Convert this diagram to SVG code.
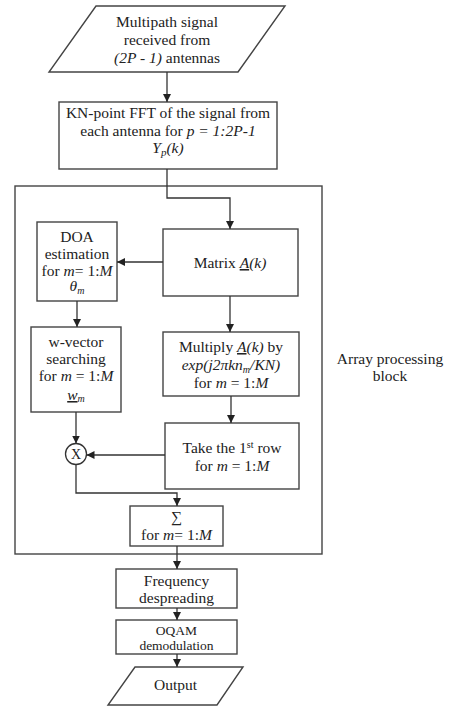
<svg xmlns="http://www.w3.org/2000/svg" width="451" height="706" viewBox="0 0 451 706">
<defs>
<marker id="ah" viewBox="0 0 10 10" refX="10" refY="5" markerWidth="8" markerHeight="8" markerUnits="userSpaceOnUse" orient="auto"><path d="M0,0 L10,5 L0,10 z" fill="#222"/></marker>
</defs>
<style>
.box{fill:#fff;stroke:#444;stroke-width:1.4}
.t{font-family:"Liberation Serif","Times New Roman",serif;font-size:15.5px;fill:#222;text-anchor:middle}
.i{font-style:italic}
.u{text-decoration:underline}
.c{fill:none;stroke:#333;stroke-width:1.3;marker-end:url(#ah)}
</style>
<rect width="451" height="706" fill="#fff"/>

<g id="array-block">
<rect x="15" y="186" width="307" height="368" fill="none" stroke="#444" stroke-width="1.4"/>
<text class="t"><tspan x="390" y="364">Array processing</tspan><tspan x="390" y="381">block</tspan></text>
</g>

<g id="input">
<polygon class="box" points="96,6 285,6 238,72 49,72"/>
<text class="t"><tspan x="167" y="27">Multipath signal</tspan><tspan x="167" y="45">received from</tspan><tspan x="167" y="63"><tspan class="i">(2P - 1)</tspan> antennas</tspan></text>
</g>

<g id="fft">
<rect class="box" x="59" y="102" width="218" height="67"/>
<text class="t"><tspan x="168" y="118">KN-point FFT of the signal  from</tspan><tspan x="168" y="136">each antenna for <tspan class="i">p = 1:2P-1</tspan></tspan><tspan x="168" y="153" class="i">Y<tspan font-size="11" dy="3">p</tspan><tspan dy="-3">(k)</tspan></tspan></text>
</g>

<g id="matrix">
<rect class="box" x="163" y="229" width="135" height="67"/>
<text class="t" x="230" y="268">Matrix <tspan class="i u">A</tspan><tspan class="i">(k)</tspan></text>
</g>

<g id="doa">
<rect class="box" x="37" y="222" width="80" height="79"/>
<text class="t"><tspan x="77" y="242">DOA</tspan><tspan x="77" y="259">estimation</tspan><tspan x="77" y="276">for <tspan class="i">m</tspan>= 1:<tspan class="i">M</tspan></tspan><tspan x="77" y="291" class="i">θ<tspan font-size="10" dy="3">m</tspan></tspan></text>
</g>

<g id="wvector">
<rect class="box" x="31" y="327" width="90" height="85"/>
<text class="t"><tspan x="76" y="347">w-vector</tspan><tspan x="76" y="364">searching</tspan><tspan x="76" y="381">for <tspan class="i">m</tspan> = 1:<tspan class="i">M</tspan></tspan><tspan x="76" y="400" class="i"><tspan class="u">w</tspan><tspan font-size="10" dy="2">m</tspan></tspan></text>
</g>

<g id="multiply">
<rect class="box" x="163" y="332" width="136" height="64"/>
<text class="t"><tspan x="231" y="352">Multiply <tspan class="i u">A</tspan><tspan class="i">(k)</tspan> by</tspan><tspan x="231" y="370" class="i">exp(j2πkn<tspan font-size="10" dy="3">m</tspan><tspan dy="-3">/KN)</tspan></tspan><tspan x="231" y="388">for <tspan class="i">m</tspan> = 1:<tspan class="i">M</tspan></tspan></text>
</g>

<g id="takerow">
<rect class="box" x="165" y="423" width="134" height="66"/>
<text class="t"><tspan x="232" y="453">Take the 1<tspan font-size="10" dy="-5">st</tspan><tspan dy="5"> row</tspan></tspan><tspan x="232" y="471">for <tspan class="i">m</tspan> = 1:<tspan class="i">M</tspan></tspan></text>
</g>

<g id="multiplier">
<circle cx="76" cy="454" r="10.5" fill="#fff" stroke="#333" stroke-width="1.3"/>
<text class="t" x="76" y="459" style="font-size:14px">X</text>
</g>

<g id="sum">
<rect class="box" x="130" y="506" width="93" height="40"/>
<text class="t"><tspan x="176.5" y="522">∑</tspan><tspan x="176.5" y="540">for <tspan class="i">m</tspan>= 1:<tspan class="i">M</tspan></tspan></text>
</g>

<g id="despread">
<rect class="box" x="116" y="569" width="121" height="39"/>
<text class="t"><tspan x="176.5" y="586">Frequency</tspan><tspan x="176.5" y="603">despreading</tspan></text>
</g>

<g id="oqam">
<rect class="box" x="116" y="620" width="121" height="34"/>
<text class="t" style="font-size:13.5px"><tspan x="176.5" y="635">OQAM</tspan><tspan x="176.5" y="650">demodulation</tspan></text>
</g>

<g id="output">
<polygon class="box" points="135,667 243,667 217,705 108,705"/>
<text class="t" x="175.5" y="690">Output</text>
</g>

<g id="connectors">
<path class="c" d="M167,72 V102"/>
<path class="c" d="M167,169 V198 H230 V229"/>
<path class="c" d="M163,262 H117"/>
<path class="c" d="M77,301 V327"/>
<path class="c" d="M230,296 V332"/>
<path class="c" d="M231,396 V423"/>
<path class="c" d="M76,412 V443.5"/>
<path class="c" d="M165,455 H86.5"/>
<path class="c" d="M76,464.5 V493 H177 V506"/>
<path class="c" d="M177,546 V569"/>
<path class="c" d="M177,608 V620"/>
<path class="c" d="M177,654 V667"/>
</g>
</svg>
